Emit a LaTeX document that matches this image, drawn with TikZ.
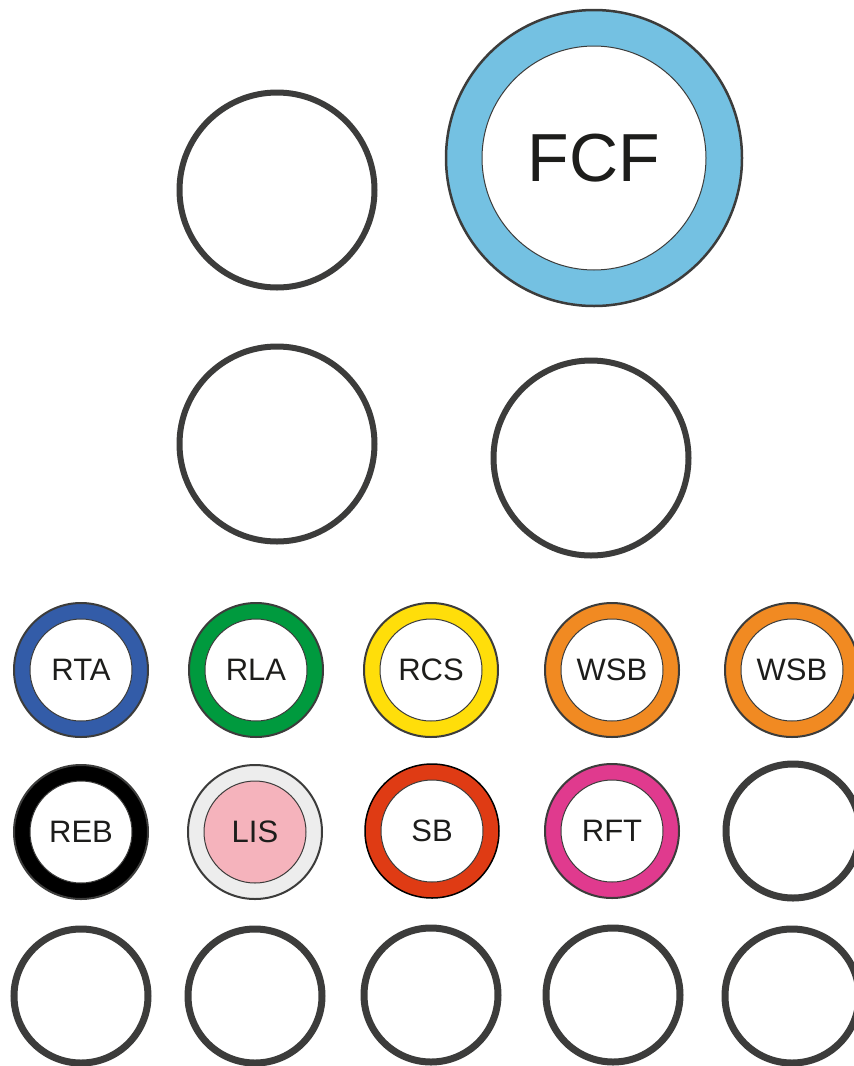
\documentclass[tikz,border=0pt]{standalone}
\usepackage{fontspec}
\setmainfont{Liberation Sans}
\definecolor{dk}{HTML}{3C3C3B}
\definecolor{txt}{HTML}{1D1D1B}
\definecolor{cblue}{HTML}{335CA8}
\definecolor{cgreen}{HTML}{009A3E}
\definecolor{cyellow}{HTML}{FFDE0A}
\definecolor{corange}{HTML}{F18A22}
\definecolor{cgrey}{HTML}{EDEDED}
\definecolor{cpink}{HTML}{F5B3BC}
\definecolor{cred}{HTML}{DF3B14}
\definecolor{cmag}{HTML}{E03A8E}
\definecolor{clblue}{HTML}{74C1E2}
\begin{document}
\begin{tikzpicture}[x=1pt,y=-1pt,
  bigplain/.style={circle, draw=dk, line width=6pt, fill=white, minimum size=195pt, inner sep=0pt},
  smallplain/.style={circle, draw=dk, line width=7pt, fill=white, minimum size=134pt, inner sep=0pt},
  ringout/.style={circle, draw=dk, line width=2pt, fill=#1, minimum size=134pt, inner sep=0pt},
  ringin/.style={circle, draw=dk, line width=1pt, fill=#1, minimum size=102pt, inner sep=0pt,
    text=txt, font=\fontsize{31}{36}\selectfont},
  ringin/.default=white]
\useasboundingbox (0,0) rectangle (854,1066);
% big circles
\node[bigplain] (b1) at (277,190) {};
\node[bigplain] (b2) at (277,444) {};
\node[bigplain] (b3) at (591,458) {};
\node[circle, draw=dk, line width=2.5pt, fill=clblue, minimum size=296pt, inner sep=0pt] (fcfo) at (594,158) {};
\node[circle, draw=dk, line width=1pt, fill=white, minimum size=224pt, inner sep=0pt,
  text=txt, font=\fontsize{68}{80}\selectfont] (fcf) at (594,158) {FCF};
% row 1
\node[ringout=cblue] (r1o) at (81,670) {};
\node[ringin] (r1) at (81,670) {RTA};
\node[ringout=cgreen] (r2o) at (256,670) {};
\node[ringin] (r2) at (256,670) {RLA};
\node[ringout=cyellow] (r3o) at (431,670) {};
\node[ringin] (r3) at (431,670) {RCS};
\node[ringout=corange] (r4o) at (612,670) {};
\node[ringin] (r4) at (612,670) {WSB};
\node[ringout=corange] (r5o) at (792,670) {};
\node[ringin] (r5) at (792,670) {WSB};
% row 2
\node[ringout=black] (s1o) at (81,832) {};
\node[ringin] (s1) at (81,832) {REB};
\node[ringout=cgrey] (s2o) at (255,832) {};
\node[ringin=cpink] (s2) at (255,832) {LIS};
\node[circle, draw=black, line width=1.5pt, fill=cred, minimum size=134pt, inner sep=0pt] (s3o) at (432,831) {};
\node[ringin] (s3) at (432,831) {SB};
\node[ringout=cmag] (s4o) at (612,831) {};
\node[ringin] (s4) at (612,831) {RFT};
\node[smallplain] (s5) at (793,831) {};
% row 3
\node[smallplain] (t1) at (81,996) {};
\node[smallplain] (t2) at (255,996) {};
\node[smallplain] (t3) at (431,995) {};
\node[smallplain] (t4) at (613,995) {};
\node[smallplain] (t5) at (792,996) {};
\end{tikzpicture}
\end{document}
